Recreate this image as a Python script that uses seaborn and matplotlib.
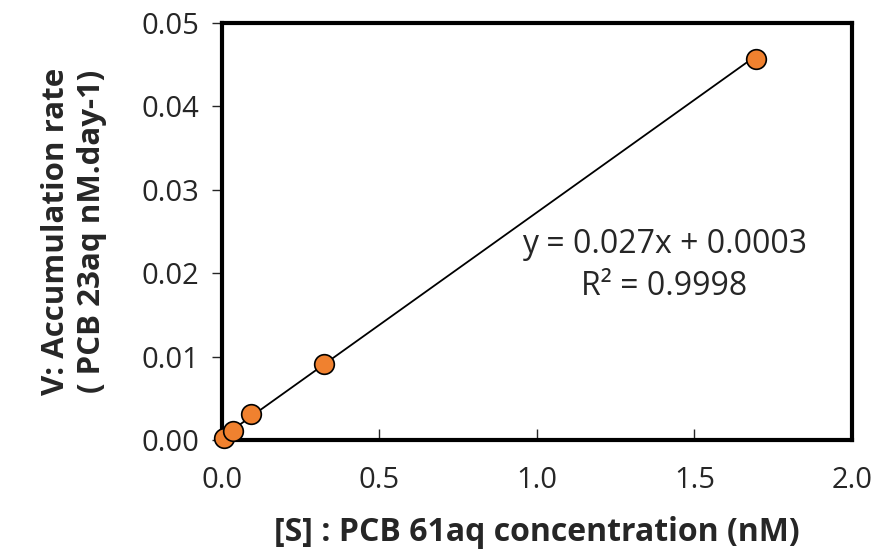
import matplotlib
matplotlib.use("Agg")
import matplotlib.pyplot as plt
import seaborn as sns
import numpy as np
import pandas as pd

s_conc = [0.006, 0.035, 0.092, 0.325, 1.694]
v_rate = [0.0002, 0.0011, 0.0031, 0.0091, 0.0457]
slope = 0.027
intercept = 0.0003
eq_text = "y = 0.027x + 0.0003"
r2_text = "R² = 0.9998"
x_ticks = [0.0, 0.5, 1.0, 1.5, 2.0]
y_ticks = [0.00, 0.01, 0.02, 0.03, 0.04, 0.05]

sns.set_style("white")
plt.rcParams['font.family'] = ['Open Sans', 'DejaVu Sans']

df = pd.DataFrame({"S": s_conc, "V": v_rate})

fig = plt.figure(figsize=(8.73, 5.5), dpi=100)
ax = fig.add_axes([0.254, 0.2, 0.722, 0.758])

xl = np.array([0.0, max(s_conc)])
ax.plot(xl, slope * xl + intercept, color="black", lw=1.3, zorder=2)
sns.scatterplot(data=df, x="S", y="V", ax=ax, s=200, color="#F0812F",
                edgecolor="black", linewidth=1.2, zorder=3, clip_on=False)

ax.set_xlim(0, 2.0)
ax.set_ylim(0, 0.05)
ax.set_xticks(x_ticks)
ax.set_xticklabels([f"{t:.1f}" for t in x_ticks])
ax.set_yticks(y_ticks)
ax.set_yticklabels([f"{t:.2f}" for t in y_ticks])
ax.tick_params(axis="x", which="major", labelsize=21, direction="in",
               length=8, width=1, bottom=True, pad=19)
ax.tick_params(axis="y", which="major", labelsize=21, direction="out",
               length=7, width=1, left=True, pad=9)
for sp in ax.spines.values():
    sp.set_linewidth(3)
    sp.set_color("black")

ax.set_xlabel("[S] : PCB 61aq concentration (nM)", fontsize=23, fontweight="bold", labelpad=15)
ax.set_ylabel("V: Accumulation rate\n( PCB 23aq nM.day-1)", fontsize=22.5, fontweight="bold",
              labelpad=25, linespacing=1.25)

ax.text(1.405, 0.0235, eq_text, fontsize=23, ha="center", va="center")
ax.text(1.405, 0.0184, r2_text, fontsize=23, ha="center", va="center")

fig.savefig("out.png", dpi=100)
